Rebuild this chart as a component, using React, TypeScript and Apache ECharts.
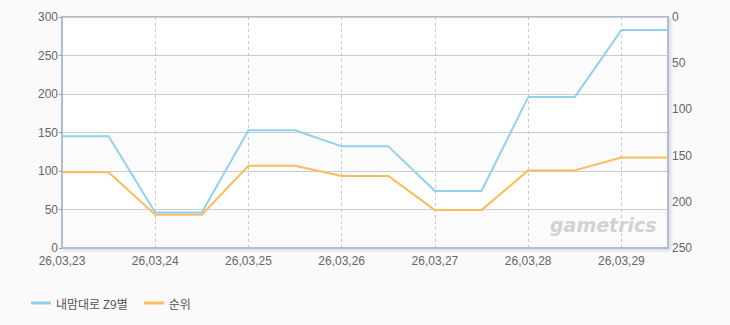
import React, { useEffect, useRef } from "react";
import * as echarts from "echarts";

const dates = ["26,03,23", "26,03,24", "26,03,25", "26,03,26", "26,03,27", "26,03,28", "26,03,29"];
const categories = [
  "26,03,23", "26,03,23 PM", "26,03,24", "26,03,24 PM", "26,03,25", "26,03,25 PM", "26,03,26",
  "26,03,26 PM", "26,03,27", "26,03,27 PM", "26,03,28", "26,03,28 PM", "26,03,29", "26,03,29 PM",
];
const viewers = [145, 145, 46, 46, 153, 153, 132, 132, 74, 74, 196, 196, 283, 283];
const rank = [168, 168, 214, 214, 161, 161, 172, 172, 209, 209, 166, 166, 152, 152];
const leftTicks = [0, 50, 100, 150, 200, 250, 300];
const rightTicks = [0, 50, 100, 150, 200, 250];

const FONT = "'Noto Sans CJK KR', 'Noto Sans', sans-serif";
const NUM_FONT = "'Liberation Sans', Arial, sans-serif";

export default function App() {
  const ref = useRef<HTMLDivElement>(null);
  useEffect(() => {
    if (!ref.current) return;
    const chart = echarts.init(ref.current, null, { renderer: "svg" });
    chart.setOption({
      animation: false,
      backgroundColor: "#fafafa",
      textStyle: { fontFamily: FONT },
      grid: {
        left: 62,
        right: 62,
        top: 17,
        bottom: 77,
        show: true,
        backgroundColor: "#ffffff",
        borderColor: "#aebfd3",
        borderWidth: 2,
        shadowColor: "rgba(0,0,0,0.12)",
        shadowBlur: 3,
        shadowOffsetX: 2,
        shadowOffsetY: 2,
      },
      legend: {
        left: 26,
        top: 292,
        itemWidth: 20,
        itemHeight: 3,
        itemGap: 16,
        icon: "rect",
        textStyle: { color: "#555", fontSize: 12, fontFamily: FONT },
        data: ["내맘대로 Z9별", "순위"],
      },
      xAxis: {
        type: "category",
        boundaryGap: false,
        data: categories,
        axisLine: { show: true, lineStyle: { color: "#aebfd3", width: 2 } },
        axisTick: { show: false },
        axisLabel: {
          interval: 1,
          color: "#666",
          fontSize: 12,
          fontFamily: NUM_FONT,
          margin: 7,
          formatter: (v: string) => (dates.includes(v) ? v : ""),
        },
        splitLine: {
          show: true,
          interval: 1,
          lineStyle: { color: "#c8c8c8", type: [3, 3], width: 1 },
        },
      },
      yAxis: [
        {
          type: "value",
          min: leftTicks[0],
          max: leftTicks[leftTicks.length - 1],
          interval: 50,
          axisLine: { show: true, lineStyle: { color: "#aebfd3", width: 2 } },
          axisTick: { show: true, length: 3, lineStyle: { color: "#999" } },
          axisLabel: { color: "#666", fontSize: 12, fontFamily: NUM_FONT, margin: 4 },
          splitLine: { show: true, lineStyle: { color: "#cccccc", width: 1 } },
          splitArea: { show: true, areaStyle: { color: ["#fbfbfb", "#ffffff"] } },
        },
        {
          type: "value",
          inverse: true,
          min: rightTicks[0],
          max: rightTicks[rightTicks.length - 1],
          interval: 50,
          axisLine: { show: true, lineStyle: { color: "#aebfd3", width: 2 } },
          axisTick: { show: false },
          axisLabel: { color: "#666", fontSize: 12, fontFamily: NUM_FONT, margin: 4 },
          splitLine: { show: false },
        },
      ],
      series: [
        {
          name: "내맘대로 Z9별",
          type: "line",
          yAxisIndex: 0,
          data: viewers,
          showSymbol: false,
          symbol: "none",
          lineStyle: { color: "#92d0f0", width: 2 },
          itemStyle: { color: "#92d0f0" },
          z: 3,
        },
        {
          name: "순위",
          type: "line",
          yAxisIndex: 1,
          data: rank,
          showSymbol: false,
          symbol: "none",
          lineStyle: { color: "#fbbd5c", width: 2 },
          itemStyle: { color: "#fbbd5c" },
          z: 2,
        },
      ],
      graphic: [
        {
          type: "text",
          left: 550,
          top: 215,
          z: 1,
          silent: true,
          style: {
            text: "gametrics",
            fill: "#d2d2d2",
            font: "italic bold 19px 'DejaVu Sans', sans-serif",
          },
        },
      ],
    });
    return () => chart.dispose();
  }, []);
  return (
    <div
      ref={ref}
      style={{ position: "absolute", left: 0, top: 0, width: 730, height: 325 }}
    />
  );
}
